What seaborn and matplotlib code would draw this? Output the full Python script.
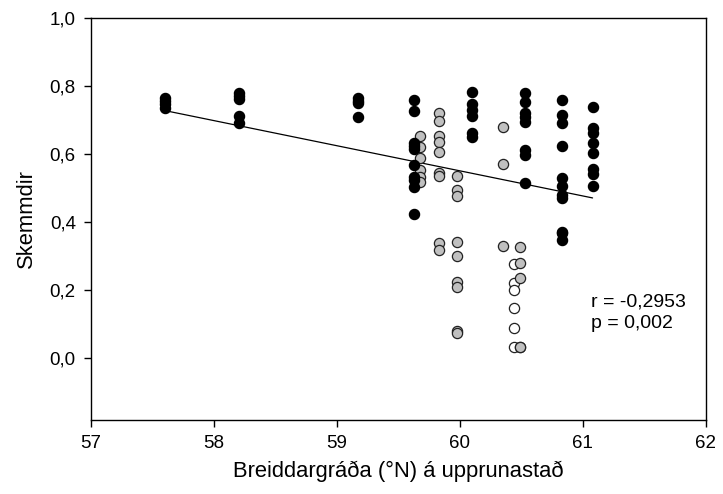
import matplotlib
matplotlib.use("Agg")
import matplotlib.pyplot as plt
import seaborn as sns
import pandas as pd
from matplotlib.ticker import FuncFormatter

# latitude (deg N) of each sampling column and the damage values
black_lat = [57.6] * 4 + [58.2] * 5 + [59.17] * 4 + [59.63] * 10 + [60.1] * 6 \
    + [60.53] * 8 + [60.83] * 11 + [61.08] * 8
black_val = [0.765, 0.755, 0.745, 0.735,
             0.78, 0.77, 0.76, 0.712, 0.69,
             0.765, 0.755, 0.75, 0.709,
             0.759, 0.726, 0.632, 0.624, 0.615, 0.568, 0.532, 0.524, 0.503, 0.424,
             0.782, 0.747, 0.729, 0.712, 0.662, 0.65,
             0.779, 0.753, 0.72, 0.709, 0.694, 0.612, 0.597, 0.515,
             0.759, 0.715, 0.691, 0.624, 0.529, 0.506, 0.479, 0.47, 0.37, 0.368, 0.347,
             0.738, 0.676, 0.662, 0.632, 0.603, 0.556, 0.541, 0.506]

grey_lat = [59.68] * 6 + [59.83] * 9 + [59.98] * 9 + [60.35] * 3 + [60.49] * 5
grey_val = [0.653, 0.62, 0.588, 0.553, 0.532, 0.518,
            0.72, 0.697, 0.653, 0.635, 0.606, 0.544, 0.535, 0.338, 0.318,
            0.535, 0.494, 0.476, 0.341, 0.3, 0.224, 0.209, 0.079, 0.073,
            0.68, 0.571, 0.329,
            0.326, 0.279, 0.235, 0.032, 0.032]

white_lat = [60.44] * 6
white_val = [0.276, 0.22, 0.2, 0.147, 0.088, 0.032]

# fitted line as printed on the chart
fit_lat = [57.6, 61.08]
fit_val = [0.727, 0.47]

x_ticks = [57, 58, 59, 60, 61, 62]
y_ticks = [0.0, 0.2, 0.4, 0.6, 0.8, 1.0]

sns.set_style("ticks")
plt.rcParams["font.family"] = ["Liberation Sans", "DejaVu Sans"]
plt.rcParams["text.color"] = "black"
plt.rcParams["axes.labelcolor"] = "black"

fig = plt.figure(figsize=(7.23, 4.94), dpi=100)
ax = fig.add_axes([0.126, 0.150, 0.850, 0.814])

fit_df = pd.DataFrame({"lat": fit_lat, "val": fit_val})
sns.lineplot(data=fit_df, x="lat", y="val", color="black", linewidth=0.9, ax=ax, zorder=1)

sns.scatterplot(x=white_lat, y=white_val, color="white", edgecolor="#222222",
                linewidth=0.9, s=54, ax=ax, zorder=3)
sns.scatterplot(x=grey_lat, y=grey_val, color="#c0c0c0", edgecolor="#222222",
                linewidth=0.9, s=54, ax=ax, zorder=3)
sns.scatterplot(x=black_lat, y=black_val, color="black", edgecolor="black",
                linewidth=0.9, s=54, ax=ax, zorder=4)

ax.set_xlim(57, 62)
ax.set_ylim(-0.183, 1.0)
ax.set_xticks(x_ticks)
ax.set_yticks(y_ticks)
ax.yaxis.set_major_formatter(FuncFormatter(lambda v, p: f"{v:.1f}".replace(".", ",")))
ax.tick_params(direction="out", length=5, width=1, labelsize=13.5, colors="black", pad=6)
for s in ax.spines.values():
    s.set_visible(True)
    s.set_linewidth(1)
    s.set_color("black")

ax.set_xlabel("Breiddargráða (°N) á upprunastað", fontsize=15.8, labelpad=6)
ax.set_ylabel("Skemmdir", fontsize=15.8, labelpad=9)

ax.text(61.065, 0.165, "r = -0,2953", fontsize=14, va="center", ha="left")
ax.text(61.065, 0.100, "p = 0,002", fontsize=14, va="center", ha="left")

fig.savefig("out.png", dpi=100)
